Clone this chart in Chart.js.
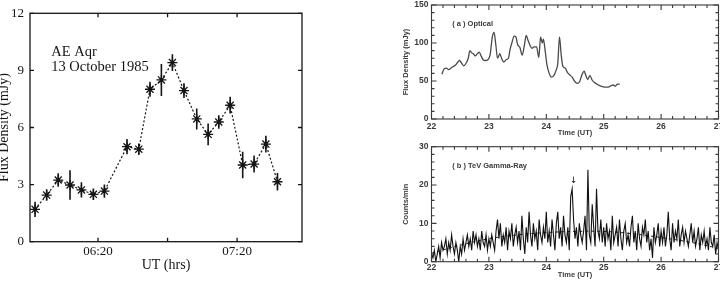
<!DOCTYPE html>
<html>
<head>
<meta charset="utf-8">
<script src="https://cdn.jsdelivr.net/npm/chart.js@4"></script>
<style>
  body { margin: 0; background: #fff; }
  #wrap { position: relative; width: 720px; height: 282px; overflow: hidden; }
  canvas { position: absolute; }
</style>
</head>
<body>
<div id="wrap">
  <canvas id="aeaqr" width="310" height="282" style="left:0;top:0"></canvas>
  <canvas id="optical" width="340" height="140" style="left:380px;top:0"></canvas>
  <canvas id="gamma" width="340" height="142" style="left:380px;top:140px"></canvas>
</div>
<script>
// AE Aqr, 13 October 1985 (left panel)
const utTimes = ['05:52:50', '05:57:50', '06:02:50', '06:07:55', '06:12:50', '06:18:00', '06:22:45',
    '06:32:30', '06:37:35', '06:42:25', '06:47:20', '06:52:05', '06:57:05', '07:02:35',
    '07:07:30', '07:12:05', '07:17:00', '07:22:25', '07:27:20', '07:32:25', '07:37:25'];
const flux = [1.70, 2.45, 3.24, 2.98, 2.72, 2.49, 2.66, 4.99, 4.86, 8.01, 8.50,
    9.41, 7.94, 6.45, 5.64, 6.29, 7.17, 4.03, 4.08, 5.13, 3.15];
const fluxErr = [0.40, 0.30, 0.35, 0.78, 0.40, 0.30, 0.35, 0.40, 0.30, 0.40, 0.84,
    0.44, 0.39, 0.55, 0.57, 0.35, 0.44, 0.70, 0.45, 0.44, 0.46];
const utTicks = ['06:20', '06:50', '07:20'];
const fluxTicks = [0, 3, 6, 9, 12];

// (a) Optical
const opticalTime = [22.18, 22.22, 22.26, 22.30, 22.34, 22.38, 22.42, 22.46, 22.49, 22.52, 22.56, 22.60,
    22.64, 22.67, 22.70, 22.73, 22.76, 22.80, 22.83, 22.87, 22.90, 22.94, 22.98, 23.02, 23.06, 23.09,
    23.12, 23.15, 23.19, 23.22, 23.26, 23.30, 23.34, 23.37, 23.40, 23.44, 23.47, 23.50, 23.54, 23.58,
    23.62, 23.65, 23.68, 23.71, 23.75, 23.79, 23.83, 23.87, 23.90, 23.93, 23.95, 23.98, 24.01, 24.05,
    24.09, 24.13, 24.17, 24.20, 24.23, 24.26, 24.29, 24.33, 24.37, 24.41, 24.45, 24.50, 24.54, 24.58,
    24.62, 24.66, 24.69, 24.72, 24.76, 24.80, 24.84, 24.90, 24.96, 25.02, 25.08, 25.13, 25.17, 25.20,
    25.24, 25.28];
const opticalFlux = [59, 66, 67, 65, 67, 69, 71, 75, 77, 74, 70, 73,
    80, 90, 87, 86, 83, 86, 88, 82, 78, 77, 78, 84, 108, 114,
    98, 80, 86, 80, 75, 78, 80, 92, 100, 109, 108, 98, 94, 84,
    98, 110, 104, 98, 93, 95, 95, 81, 108, 100, 105, 90, 72, 60,
    55, 57, 64, 73, 108, 84, 69, 67, 61, 58, 55, 49, 47, 49,
    58, 63, 57, 52, 57, 51, 48, 45, 43, 42, 42, 44, 45, 43,
    46, 46];

// (b) TeV Gamma-Ray, 0.025 h bins from 22.0 UT
const gammaStart = 22.0;
const gammaBin = 0.025;
const gammaCounts = [
    2, 1, 3, 0, 2, 4, 1, 5, 3, 4, 6, 2, 5, 3, 7, 4, 2, 5, 3, 0,
    4, 2, 6, 3, 5, 7, 4, 6, 3, 8, 5, 7, 4, 6, 3, 8, 5, 4, 7, 3,
    6, 4, 7, 5, 3, 8, 11, 6, 10, 4, 7, 5, 9, 3, 8, 6, 10, 4, 7, 9,
    5, 8, 3, 12, 6, 2, 9, 5, 13, 7, 4, 10, 6, 8, 3, 11, 7, 5, 9, 6,
    13, 5, 8, 4, 11, 7, 3, 10, 13, 6, 9, 4, 12, 7, 5, 9, 3, 17, 19, 11,
    6, 9, 4, 10, 7, 5, 8, 12, 3, 24, 7, 5, 15, 9, 4, 19, 8, 6, 11, 5,
    9, 4, 10, 6, 8, 3, 12, 5, 7, 9, 4, 11, 6, 3, 8, 10, 5, 7, 4, 9,
    12, 5, 8, 3, 10, 6, 4, 9, 7, 11, 5, 8, 3, 6, 1, 9, 5, 7, 10, 4,
    8, 5, 9, 4, 7, 13, 6, 3, 10, 5, 8, 6, 11, 4, 7, 9, 5, 8, 6, 4,
    7, 10, 5, 8, 4, 6, 9, 3, 7, 5, 8, 4, 6, 3, 9, 5, 4, 7, 2, 5,
    3];
const modelTime = [22.0, 22.5, 23.0, 23.5, 24.0, 24.5, 25.0, 25.5, 26.0, 26.5, 27.0];
const modelCounts = [2.2, 4.3, 6.0, 7.0, 7.6, 7.9, 7.9, 7.3, 6.3, 5.1, 3.5];

function toMinutes(s) {
    const [h, m, sec] = s.split(':').map(Number);
    return h * 60 + m + (sec || 0) / 60;
}
function pad(n) { return String(n).padStart(2, '0'); }

// box round the plot area, with ticks pointing inward on all four sides
const frameTicks = {
    id: 'frameTicks',
    afterDraw(chart, args, o) {
        const { ctx, chartArea: a, scales: { x, y } } = chart;
        ctx.save();
        ctx.strokeStyle = o.color;
        ctx.lineWidth = o.lineWidth;
        ctx.strokeRect(a.left, a.top, a.right - a.left, a.bottom - a.top);
        ctx.beginPath();
        const mark = (scale, step, len) => {
            const vals = [];
            if (step) {
                for (let v = Math.ceil(scale.min / step - 1e-6) * step; v <= scale.max + 1e-6; v += step) vals.push(v);
            } else {
                scale.ticks.forEach(t => vals.push(t.value));
            }
            vals.forEach(v => {
                const p = scale.getPixelForValue(v);
                if (scale.isHorizontal()) {
                    ctx.moveTo(p, a.bottom); ctx.lineTo(p, a.bottom - len);
                    ctx.moveTo(p, a.top); ctx.lineTo(p, a.top + len);
                } else {
                    ctx.moveTo(a.left, p); ctx.lineTo(a.left + len, p);
                    ctx.moveTo(a.right, p); ctx.lineTo(a.right - len, p);
                }
            });
        };
        mark(x, 0, o.major);
        mark(y, 0, o.major);
        if (o.xMinor) mark(x, o.xMinor, o.minor);
        if (o.yMinor) mark(y, o.yMinor, o.minor);
        ctx.stroke();
        ctx.restore();
    }
};

const errorBars = {
    id: 'errorBars',
    beforeDatasetsDraw(chart) {
        const { ctx, scales: { x, y } } = chart;
        ctx.save();
        ctx.strokeStyle = '#151515';
        ctx.lineWidth = 1.6;
        ctx.beginPath();
        utTimes.forEach((t, i) => {
            const px = x.getPixelForValue(toMinutes(t));
            ctx.moveTo(px, y.getPixelForValue(flux[i] - fluxErr[i]));
            ctx.lineTo(px, y.getPixelForValue(flux[i] + fluxErr[i]));
        });
        ctx.stroke();
        ctx.restore();
    }
};

const notes = {
    id: 'notes',
    afterDraw(chart, args, o) {
        const { ctx, scales: { x, y } } = chart;
        ctx.save();
        (o.items || []).forEach(n => {
            ctx.font = n.font;
            ctx.fillStyle = n.color;
            ctx.textAlign = n.align || 'left';
            ctx.textBaseline = 'middle';
            ctx.fillText(n.text, x.getPixelForValue(n.x), y.getPixelForValue(n.y));
        });
        ctx.restore();
    }
};

// fixes the box sizes so the plot areas land where the figure has them
function fixWidth(w) {
    return s => { s.width = w; s.paddingTop = 0; s.paddingBottom = 0; };
}
function fixHeight(h) {
    return s => { s.height = h; s.paddingLeft = 0; s.paddingRight = 0; };
}

const serif = 'Liberation Serif';
const sans = 'Liberation Sans';
const ink = '#151515';
const grey = '#3a3a3a';

const aePoints = utTimes.map((t, i) => ({ x: toMinutes(t), y: flux[i] }));

new Chart(document.getElementById('aeaqr'), {
    type: 'line',
    data: {
        datasets: [
            {
                data: aePoints,
                borderColor: ink,
                borderWidth: 1.2,
                borderDash: [2, 2],
                pointStyle: 'star',
                pointRadius: 5,
                pointBorderWidth: 1.3,
                pointBorderColor: ink,
                pointBackgroundColor: ink,
                fill: false
            },
            {
                data: aePoints,
                showLine: false,
                pointStyle: 'rect',
                pointRadius: 2.2,
                pointBorderWidth: 0,
                pointBackgroundColor: ink
            }
        ]
    },
    options: {
        responsive: false,
        animation: false,
        layout: { padding: { top: 13.3, right: 8, left: 0, bottom: 0 } },
        plugins: {
            legend: { display: false },
            tooltip: { enabled: false },
            frameTicks: { color: ink, lineWidth: 1.3, major: 4 },
            notes: {
                items: [
                    { text: 'AE Aqr', x: 359.8, y: 9.95, font: '14.5px "Liberation Serif"', color: ink },
                    { text: '13 October 1985', x: 359.8, y: 9.18, font: '14.5px "Liberation Serif"', color: ink }
                ]
            }
        },
        scales: {
            x: {
                type: 'linear',
                min: 350.65,
                max: 468.0,
                afterBuildTicks: s => { s.ticks = utTicks.map(t => ({ value: toMinutes(t) })); },
                afterFit: fixHeight(40.3),
                grid: { display: false, drawTicks: false },
                border: { display: false },
                ticks: {
                    padding: 2,
                    color: ink,
                    font: { family: serif, size: 13 },
                    callback: v => (v % 60 === 20 ? pad(Math.floor(v / 60)) + ':' + pad(v % 60) : '')
                },
                title: {
                    display: true, text: 'UT (hrs)', color: ink,
                    font: { family: serif, size: 14, lineHeight: 1.2 },
                    padding: { top: 0, bottom: 8.6 }
                }
            },
            y: {
                min: 0,
                max: 12,
                afterBuildTicks: s => { s.ticks = fluxTicks.map(v => ({ value: v })); },
                afterFit: fixWidth(30),
                grid: { display: false, drawTicks: false },
                border: { display: false },
                ticks: { padding: 6, color: ink, font: { family: serif, size: 13 } },
                title: {
                    display: true, text: 'Flux Density (mJy)', color: ink,
                    font: { family: serif, size: 14, lineHeight: 0.6 },
                    padding: { top: 0, bottom: 0 }
                }
            }
        }
    },
    plugins: [errorBars, frameTicks, notes]
});

function hourAxis(height, labelPad, titleY) {
    return {
        type: 'linear',
        min: 22,
        max: 27,
        afterFit: fixHeight(height),
        grid: { display: false, drawTicks: false },
        border: { display: false },
        ticks: { stepSize: 1, padding: labelPad, color: grey, font: { family: sans, size: 8.5, weight: 'bold' } },
        title: {
            display: true, text: 'Time (UT)', color: grey,
            font: { family: sans, size: 7.5, weight: 'bold', lineHeight: 1 },
            padding: { top: 0, bottom: titleY }
        }
    };
}
function countAxis(max, step, text) {
    return {
        min: 0,
        max: max,
        afterFit: fixWidth(51.5),
        grid: { display: false, drawTicks: false },
        border: { display: false },
        ticks: { stepSize: step, padding: 3, color: grey, font: { family: sans, size: 8.5, weight: 'bold' } },
        title: {
            display: true, text: text, color: grey,
            font: { family: sans, size: 7.5, weight: 'bold', lineHeight: 1 },
            padding: { top: 22.5, bottom: 0 }
        }
    };
}

new Chart(document.getElementById('optical'), {
    type: 'line',
    data: {
        datasets: [{
            data: opticalTime.map((t, i) => ({ x: t, y: opticalFlux[i] })),
            borderColor: '#4a4a4a',
            borderWidth: 1.3,
            pointRadius: 0,
            cubicInterpolationMode: 'monotone',
            fill: false
        }]
    },
    options: {
        responsive: false,
        animation: false,
        layout: { padding: { top: 5, right: 1.5, left: 0, bottom: 0 } },
        plugins: {
            legend: { display: false },
            tooltip: { enabled: false },
            frameTicks: { color: grey, lineWidth: 1.1, major: 5, minor: 3, xMinor: 0.2, yMinor: 10 },
            notes: {
                items: [
                    { text: '( a ) Optical', x: 22.36, y: 125, font: 'bold 7.5px "Liberation Sans"', color: grey }
                ]
            }
        },
        scales: {
            x: hourAxis(21, 3, 3.2),
            y: countAxis(150, 50, 'Flux Density (mJy)')
        }
    },
    plugins: [frameTicks, notes]
});

new Chart(document.getElementById('gamma'), {
    type: 'line',
    data: {
        datasets: [
            {
                data: gammaCounts.map((c, i) => ({ x: gammaStart + i * gammaBin, y: c })),
                borderColor: '#111',
                borderWidth: 1.1,
                pointRadius: 0,
                fill: false
            },
            {
                data: modelTime.map((t, i) => ({ x: t, y: modelCounts[i] })),
                borderColor: '#222',
                borderWidth: 1,
                borderDash: [3, 3],
                pointRadius: 0,
                tension: 0.4,
                fill: false
            }
        ]
    },
    options: {
        responsive: false,
        animation: false,
        layout: { padding: { top: 6.7, right: 1.5, left: 0, bottom: 0 } },
        plugins: {
            legend: { display: false },
            tooltip: { enabled: false },
            frameTicks: { color: grey, lineWidth: 1.1, major: 5, minor: 3, xMinor: 0.2, yMinor: 2 },
            notes: {
                items: [
                    { text: '( b ) TeV Gamma-Ray', x: 22.36, y: 25, font: 'bold 7.5px "Liberation Sans"', color: grey },
                    { text: '↓', x: 24.48, y: 21.2, font: '9px "DejaVu Sans"', color: '#111', align: 'center' }
                ]
            }
        },
        scales: {
            x: hourAxis(20.3, 1, 3.2),
            y: countAxis(30, 10, 'Counts/min')
        }
    },
    plugins: [frameTicks, notes]
});
</script>
</body>
</html>
